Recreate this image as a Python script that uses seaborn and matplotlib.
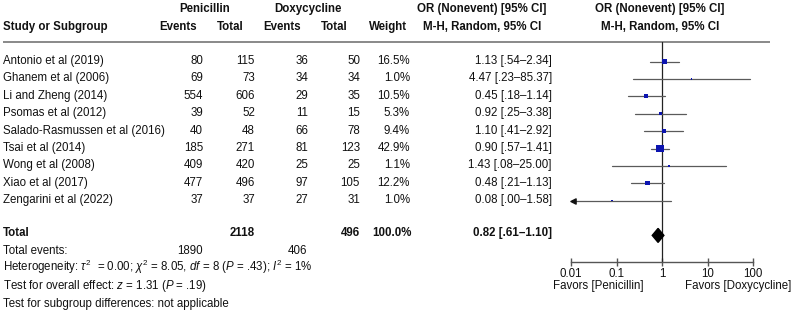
import matplotlib
matplotlib.use("Agg")
import matplotlib.pyplot as plt
import seaborn as sns
import numpy as np
import pandas as pd

sns.set_theme(style="white")
plt.rcParams['font.family'] = ['Liberation Sans', 'DejaVu Sans']
plt.rcParams['mathtext.fontset'] = 'custom'
plt.rcParams['mathtext.rm'] = 'Liberation Sans'
plt.rcParams['mathtext.it'] = 'Liberation Sans:italic'
plt.rcParams['mathtext.bf'] = 'Liberation Sans:bold'

# ---------------- data ----------------
studies = ["Antonio et al (2019)", "Ghanem et al (2006)", "Li and Zheng (2014)",
           "Psomas et al (2012)", "Salado-Rasmussen et al (2016)", "Tsai et al (2014)",
           "Wong et al (2008)", "Xiao et al (2017)", "Zengarini et al (2022)"]
pen_events = [80, 69, 554, 39, 40, 185, 409, 477, 37]
pen_total = [115, 73, 606, 52, 48, 271, 420, 496, 37]
dox_events = [36, 34, 29, 11, 66, 81, 25, 97, 27]
dox_total = [50, 34, 35, 15, 78, 123, 25, 105, 31]
weights = [16.5, 1.0, 10.5, 5.3, 9.4, 42.9, 1.1, 12.2, 1.0]
or_est = [1.13, 4.47, 0.45, 0.92, 1.10, 0.90, 1.43, 0.48, 0.08]
ci_lo = [0.54, 0.23, 0.18, 0.25, 0.41, 0.57, 0.08, 0.21, 0.00]
ci_hi = [2.34, 85.37, 1.14, 3.38, 2.92, 1.41, 25.00, 1.13, 1.58]

total_pen_events = 1890
total_pen_total = 2118
total_dox_events = 406
total_dox_total = 496
total_weight = 100.0
total_or, total_lo, total_hi = 0.82, 0.61, 1.10

axis_ticks = [0.01, 0.1, 1, 10, 100]
axis_labels = ["0.01", "0.1", "1", "10", "100"]


def fmt(v):
    s = f"{v:.2f}"
    return s[1:] if v < 1 else s


def ci_text(o, lo, hi):
    return f"{o:.2f} [{fmt(lo)}\u2013{fmt(hi)}]"


df = pd.DataFrame({"study": studies, "or": or_est, "lo": ci_lo, "hi": ci_hi,
                   "w": weights})

# ---------------- figure ----------------
W, H = 800, 312
fig = plt.figure(figsize=(W / 100, H / 100), dpi=100)
fig.patch.set_facecolor("white")

ax_t = fig.add_axes([0, 0, 1, 1])
ax_t.set_xlim(0, W)
ax_t.set_ylim(H, 0)
ax_t.axis("off")

FS = 8.3
row0, dy = 60.0, 17.4
rows = [row0 + dy * i for i in range(len(studies))]
BL = 4.0  # baseline offset from visual center


def txt(x, yc, s, ha="left", bold=False, **kw):
    ax_t.text(x, yc + BL, s, ha=ha, va="baseline", fontsize=FS,
              fontweight="bold" if bold else "normal", color="#111111", **kw)


# headers
txt(205, 8, "Penicillin", ha="center", bold=True)
txt(308, 8, "Doxycycline", ha="center", bold=True)
txt(482, 8, "OR (Nonevent) [95% CI]", ha="center", bold=True)
txt(660, 8, "OR (Nonevent) [95% CI]", ha="center", bold=True)
txt(3, 26, "Study or Subgroup", bold=True)
txt(178, 26, "Events", ha="center", bold=True)
txt(230, 26, "Total", ha="center", bold=True)
txt(282, 26, "Events", ha="center", bold=True)
txt(334, 26, "Total", ha="center", bold=True)
txt(388, 26, "Weight", ha="center", bold=True)
txt(482, 26, "M-H, Random, 95% CI", ha="center", bold=True)
txt(660, 26, "M-H, Random, 95% CI", ha="center", bold=True)
ax_t.plot([3, 770], [42, 42], color="#808080", lw=1.3, solid_capstyle="butt")

# study rows
for i, y in enumerate(rows):
    txt(3, y, studies[i])
    txt(203, y, str(pen_events[i]), ha="right")
    txt(255, y, str(pen_total[i]), ha="right")
    txt(308, y, str(dox_events[i]), ha="right")
    txt(360, y, str(dox_total[i]), ha="right")
    txt(410, y, f"{weights[i]:.1f}%", ha="right")
    txt(552, y, ci_text(or_est[i], ci_lo[i], ci_hi[i]), ha="right")

# totals
ty = 232
txt(3, ty, "Total", bold=True)
txt(255, ty, str(total_pen_total), ha="right", bold=True)
txt(360, ty, str(total_dox_total), ha="right", bold=True)
txt(412, ty, f"{total_weight:.1f}%", ha="right", bold=True)
txt(552, ty, ci_text(total_or, total_lo, total_hi), ha="right", bold=True)
txt(3, 250, "Total events:")
txt(203, 250, str(total_pen_events), ha="right")
txt(307, 250, str(total_dox_events), ha="right")
txt(3, 267.5, r"Heterogeneity: $\tau^2$  = 0.00; $\chi^2$ = 8.05, $df$ = 8 ($P$ = .43); $I^2$ = 1%")
txt(3, 285, r"Test for overall effect: $z$ = 1.31 ($P$ = .19)")
txt(3, 302.5, "Test for subgroup differences: not applicable")
txt(644, 285, "Favors [Penicillin]", ha="right")
txt(685, 285, "Favors [Doxycycline]", ha="left")

# ---------------- forest axes ----------------
x0, x1 = 571, 753
ytop, ybot = 42, 262
ax = fig.add_axes([x0 / W, (H - ybot) / H, (x1 - x0) / W, (ybot - ytop) / H])
ax.set_xscale("log")
ax.set_xlim(0.01, 100)
ax.set_ylim(ybot, ytop)
ax.patch.set_alpha(0)
for s in ["top", "left", "right"]:
    ax.spines[s].set_visible(False)
ax.spines["bottom"].set_color("#555555")
ax.spines["bottom"].set_linewidth(1.0)
ax.set_xticks(axis_ticks)
ax.set_xticklabels(axis_labels, fontsize=FS, color="#111111")
ax.xaxis.set_minor_locator(matplotlib.ticker.NullLocator())
ax.tick_params(axis="x", direction="inout", length=6, width=1.0, color="#555555", pad=1.5, bottom=True)
ax.set_yticks([])
ax.set_xlabel("")
ax.set_ylabel("")

ax.axvline(1, color="#222222", lw=0.9, zorder=1)

my = [y + 1.5 for y in rows]
df["y"] = my
for i, y in enumerate(my):
    lo = max(ci_lo[i], 0.0106)
    ax.plot([lo, ci_hi[i]], [y, y], color="#5a5a5a", lw=0.9, zorder=2)
    if ci_lo[i] < 0.01:
        ax.scatter([0.0108], [y], marker="<", s=14, color="#111111", zorder=3, clip_on=False)

sns.scatterplot(data=df, x="or", y="y", size="w", sizes=(0.65 * 1.0 + 0.5, 0.65 * 42.9 + 0.5),
                size_norm=(1.0, 42.9), marker="s", color="#0c14b0", edgecolor="none",
                legend=False, ax=ax, zorder=4)
ax.set_xlabel("")
ax.set_ylabel("")

# diamond
dyc = 235.4
ax.fill([total_lo, total_or, total_hi, total_or], [dyc, dyc - 7, dyc, dyc + 7],
        color="black", zorder=5)

fig.savefig("out.png", dpi=100, facecolor="white")
